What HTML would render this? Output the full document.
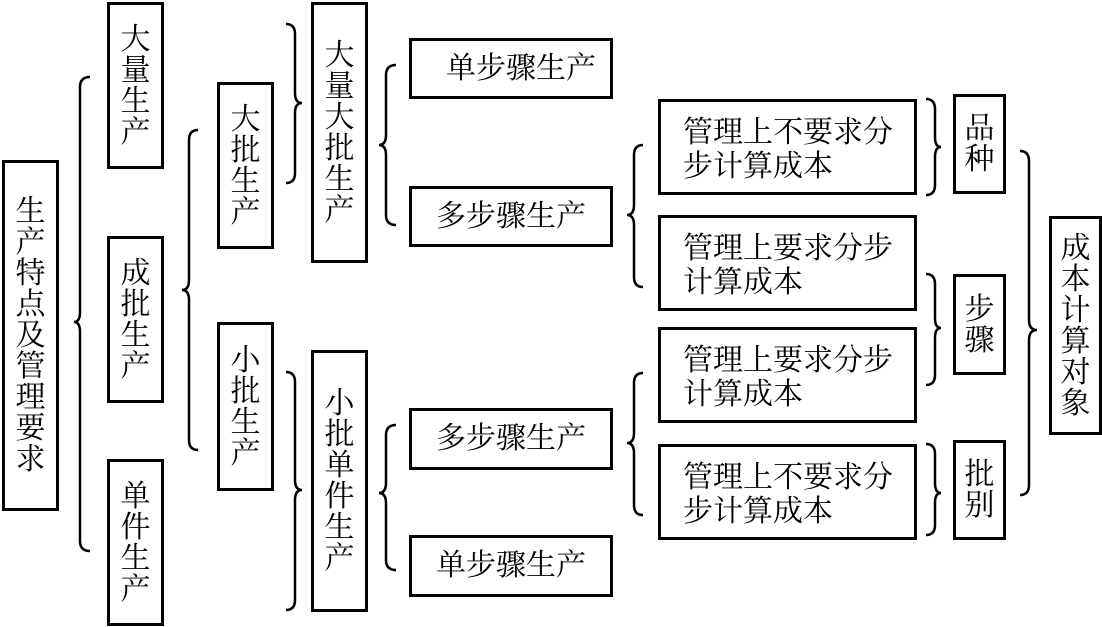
<!DOCTYPE html>
<html><head><meta charset="utf-8"><style>
body{margin:0;width:1102px;height:627px;background:#fff;position:relative;overflow:hidden;font-family:"Liberation Serif","Noto Serif CJK SC",serif;color:#000}
.b{position:absolute;border:3px solid #000;box-sizing:border-box;display:flex;align-items:center;justify-content:center;background:#fff}
.v{width:30px;font-size:30px;line-height:31px;text-align:center;word-break:break-all}
.h{font-size:30px;line-height:34px;white-space:nowrap}
.m{justify-content:flex-start;padding-left:22px;padding-top:6px}
svg{position:absolute;left:0;top:0}
</style></head><body>
<svg width="1102" height="627" fill="none" stroke="#000" stroke-width="2.5">
<!-- left-facing braces -->
<path d="M90 77 Q80 77 80 87 L80 312 Q80 322 74 322 Q80 322 80 332 L80 541 Q80 551 90 551"/>
<path d="M198 130 Q189 130 189 140 L189 280 Q189 290 182 290 Q189 290 189 300 L189 440 Q189 450 198 450"/>
<path d="M396 65 Q386 65 386 75 L386 135 Q386 145 379 145 Q386 145 386 155 L386 215 Q386 225 396 225"/>
<path d="M396 425 Q386 425 386 435 L386 483 Q386 493 379 493 Q386 493 386 503 L386 560 Q386 570 396 570"/>
<path d="M643 145 Q634 145 634 155 L634 205 Q634 215 627 215 Q634 215 634 225 L634 277 Q634 287 643 287"/>
<path d="M643 373 Q634 373 634 383 L634 433 Q634 443 627 443 Q634 443 634 453 L634 505 Q634 515 643 515"/>
<!-- right-facing braces -->
<path d="M286 24 Q295 24 295 34 L295 93 Q295 103 302 103 Q295 103 295 113 L295 173 Q295 183 286 183"/>
<path d="M286 372 Q295 372 295 382 L295 480 Q295 490 302 490 Q295 490 295 500 L295 600 Q295 610 286 610"/>
<path d="M926 99 Q935 99 935 109 L935 137 Q935 147 941 147 Q935 147 935 157 L935 185 Q935 195 926 195"/>
<path d="M926 274 Q935 274 935 284 L935 318 Q935 328 941 328 Q935 328 935 338 L935 375 Q935 385 926 385"/>
<path d="M926 444 Q935 444 935 454 L935 483 Q935 493 941 493 Q935 493 935 503 L935 525 Q935 535 926 535"/>
<path d="M1020 151 Q1029 151 1029 161 L1029 320 Q1029 330 1037 330 Q1029 330 1029 340 L1029 485 Q1029 495 1020 495"/>
</svg>
<div class="b" style="left:2px;top:160px;width:57px;height:351px"><div class="v">生产特点及管理要求</div></div>
<div class="b" style="left:107px;top:2px;width:57px;height:167px"><div class="v">大量生产</div></div>
<div class="b" style="left:107px;top:236px;width:57px;height:167px"><div class="v">成批生产</div></div>
<div class="b" style="left:107px;top:459px;width:57px;height:167px"><div class="v">单件生产</div></div>
<div class="b" style="left:217px;top:82px;width:57px;height:167px"><div class="v">大批生产</div></div>
<div class="b" style="left:217px;top:322px;width:57px;height:169px"><div class="v">小批生产</div></div>
<div class="b" style="left:311px;top:2px;width:57px;height:261px"><div class="v">大量大批生产</div></div>
<div class="b" style="left:311px;top:350px;width:57px;height:262px"><div class="v">小批单件生产</div></div>
<div class="b" style="left:409px;top:38px;width:204px;height:61px"><div class="h" style="padding-left:20px">单步骤生产</div></div>
<div class="b" style="left:409px;top:186px;width:204px;height:61px"><div class="h">多步骤生产</div></div>
<div class="b" style="left:409px;top:408px;width:204px;height:62px"><div class="h">多步骤生产</div></div>
<div class="b" style="left:409px;top:535px;width:204px;height:62px"><div class="h">单步骤生产</div></div>
<div class="b m" style="left:658px;top:99px;width:259px;height:96px"><div class="h">管理上不要求分<br>步计算成本</div></div>
<div class="b m" style="left:658px;top:215px;width:259px;height:96px"><div class="h">管理上要求分步<br>计算成本</div></div>
<div class="b m" style="left:658px;top:327px;width:259px;height:96px"><div class="h">管理上要求分步<br>计算成本</div></div>
<div class="b m" style="left:658px;top:444px;width:259px;height:96px"><div class="h">管理上不要求分<br>步计算成本</div></div>
<div class="b" style="left:953px;top:94px;width:53px;height:100px"><div class="v">品种</div></div>
<div class="b" style="left:953px;top:274px;width:53px;height:101px"><div class="v">步骤</div></div>
<div class="b" style="left:953px;top:440px;width:53px;height:100px"><div class="v">批别</div></div>
<div class="b" style="left:1049px;top:216px;width:53px;height:219px"><div class="v">成本计算对象</div></div>
</body></html>
